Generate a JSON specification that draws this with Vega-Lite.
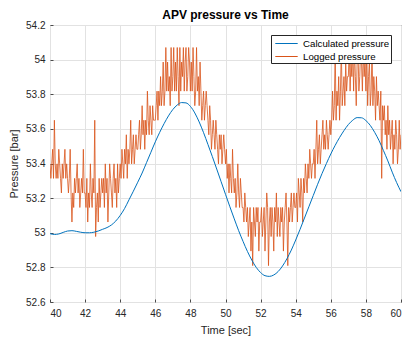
{
"$schema":"https://vega.github.io/schema/vega-lite/v6.json",
"width":351,"height":277,
"autosize":{"type":"none"},
"padding":{"left":50,"top":25,"right":12,"bottom":39},
"background":"white",
"title":{"text":"APV pressure vs Time","fontSize":12,"fontWeight":"bold","font":"Liberation Sans","color":"#000","anchor":"middle","offset":-2},
"config":{"view":{"stroke":"#4a4a4a","strokeWidth":1},
"axis":{"labelFont":"Liberation Sans","titleFont":"Liberation Sans","labelFontSize":10,"titleFontSize":11,"labelColor":"#262626","titleColor":"#262626","titleFontWeight":"normal","gridColor":"#e2e2e2","gridWidth":1,"domain":false,"ticks":true,"tickSize":-3,"tickColor":"#4a4a4a","tickWidth":1}},
"datasets":{
"calc":[
{"t":40.00,"p":52.995},{"t":40.25,"p":52.990},{"t":40.50,"p":52.993},{"t":40.75,"p":53.002},{"t":41.00,"p":53.010},{"t":41.25,"p":53.012},{"t":41.50,"p":53.008},{"t":41.75,"p":53.003},{"t":42.00,"p":53.000},{"t":42.25,"p":53.000},{"t":42.50,"p":53.003},{"t":42.75,"p":53.010},{"t":43.00,"p":53.020},{"t":43.25,"p":53.030},{"t":43.50,"p":53.045},{"t":43.75,"p":53.068},{"t":44.00,"p":53.100},{"t":44.25,"p":53.140},{"t":44.50,"p":53.190},{"t":44.75,"p":53.240},{"t":45.00,"p":53.292},{"t":45.25,"p":53.345},{"t":45.50,"p":53.405},{"t":45.75,"p":53.465},{"t":46.00,"p":53.525},{"t":46.25,"p":53.580},{"t":46.50,"p":53.630},{"t":46.75,"p":53.675},{"t":47.00,"p":53.712},{"t":47.25,"p":53.738},{"t":47.50,"p":53.752},{"t":47.75,"p":53.750},{"t":48.00,"p":53.730},{"t":48.25,"p":53.692},{"t":48.50,"p":53.640},{"t":48.75,"p":53.578},{"t":49.00,"p":53.510},{"t":49.25,"p":53.440},{"t":49.50,"p":53.368},{"t":49.75,"p":53.295},{"t":50.00,"p":53.222},{"t":50.25,"p":53.150},{"t":50.50,"p":53.080},{"t":50.75,"p":53.012},{"t":51.00,"p":52.950},{"t":51.25,"p":52.892},{"t":51.50,"p":52.842},{"t":51.75,"p":52.800},{"t":52.00,"p":52.770},{"t":52.25,"p":52.752},{"t":52.50,"p":52.748},{"t":52.75,"p":52.756},{"t":53.00,"p":52.776},{"t":53.25,"p":52.808},{"t":53.50,"p":52.850},{"t":53.75,"p":52.900},{"t":54.00,"p":52.958},{"t":54.25,"p":53.020},{"t":54.50,"p":53.085},{"t":54.75,"p":53.150},{"t":55.00,"p":53.215},{"t":55.25,"p":53.280},{"t":55.50,"p":53.342},{"t":55.75,"p":53.400},{"t":56.00,"p":53.455},{"t":56.25,"p":53.505},{"t":56.50,"p":53.550},{"t":56.75,"p":53.590},{"t":57.00,"p":53.625},{"t":57.25,"p":53.650},{"t":57.50,"p":53.665},{"t":57.75,"p":53.664},{"t":58.00,"p":53.648},{"t":58.25,"p":53.620},{"t":58.50,"p":53.580},{"t":58.75,"p":53.532},{"t":59.00,"p":53.475},{"t":59.25,"p":53.415},{"t":59.50,"p":53.350},{"t":59.75,"p":53.290},{"t":60.00,"p":53.237}
],
"logged":[
{"t":40.00,"p":53.398},{"t":40.05,"p":53.314},{"t":40.10,"p":53.398},{"t":40.15,"p":53.482},{"t":40.20,"p":53.314},{"t":40.25,"p":53.650},{"t":40.30,"p":53.398},{"t":40.35,"p":53.314},{"t":40.40,"p":53.398},{"t":40.45,"p":53.314},{"t":40.50,"p":53.482},{"t":40.55,"p":53.398},{"t":40.60,"p":53.314},{"t":40.65,"p":53.230},{"t":40.70,"p":53.398},{"t":40.75,"p":53.314},{"t":40.80,"p":53.398},{"t":40.85,"p":53.482},{"t":40.90,"p":53.314},{"t":40.95,"p":53.398},
{"t":41.00,"p":53.314},{"t":41.05,"p":53.230},{"t":41.10,"p":53.314},{"t":41.15,"p":53.482},{"t":41.20,"p":53.230},{"t":41.25,"p":53.062},{"t":41.30,"p":53.230},{"t":41.35,"p":53.146},{"t":41.40,"p":53.314},{"t":41.45,"p":53.230},{"t":41.50,"p":53.314},{"t":41.55,"p":53.398},{"t":41.60,"p":53.230},{"t":41.65,"p":53.314},{"t":41.70,"p":53.146},{"t":41.75,"p":53.230},{"t":41.80,"p":53.314},{"t":41.85,"p":53.230},{"t":41.90,"p":53.482},{"t":41.95,"p":53.230},
{"t":42.00,"p":53.230},{"t":42.05,"p":53.146},{"t":42.10,"p":53.314},{"t":42.15,"p":53.062},{"t":42.20,"p":53.230},{"t":42.25,"p":53.146},{"t":42.30,"p":53.398},{"t":42.35,"p":53.230},{"t":42.40,"p":53.146},{"t":42.45,"p":53.314},{"t":42.50,"p":53.230},{"t":42.55,"p":53.650},{"t":42.60,"p":52.978},{"t":42.65,"p":53.146},{"t":42.70,"p":53.230},{"t":42.75,"p":53.062},{"t":42.80,"p":53.314},{"t":42.85,"p":53.146},{"t":42.90,"p":53.230},{"t":42.95,"p":53.314},
{"t":43.00,"p":53.230},{"t":43.05,"p":53.314},{"t":43.10,"p":53.146},{"t":43.15,"p":53.398},{"t":43.20,"p":53.230},{"t":43.25,"p":53.314},{"t":43.30,"p":53.062},{"t":43.35,"p":53.230},{"t":43.40,"p":53.398},{"t":43.45,"p":53.314},{"t":43.50,"p":53.230},{"t":43.55,"p":53.146},{"t":43.60,"p":53.314},{"t":43.65,"p":53.398},{"t":43.70,"p":53.230},{"t":43.75,"p":53.314},{"t":43.80,"p":53.146},{"t":43.85,"p":53.398},{"t":43.90,"p":53.230},{"t":43.95,"p":53.314},
{"t":44.00,"p":53.398},{"t":44.05,"p":53.314},{"t":44.10,"p":53.482},{"t":44.15,"p":53.398},{"t":44.20,"p":53.314},{"t":44.25,"p":53.482},{"t":44.30,"p":53.398},{"t":44.35,"p":53.566},{"t":44.40,"p":53.314},{"t":44.45,"p":53.482},{"t":44.50,"p":53.398},{"t":44.55,"p":53.482},{"t":44.60,"p":53.650},{"t":44.65,"p":53.398},{"t":44.70,"p":53.482},{"t":44.75,"p":53.566},{"t":44.80,"p":53.398},{"t":44.85,"p":53.482},{"t":44.90,"p":53.566},{"t":44.95,"p":53.482},
{"t":45.00,"p":53.482},{"t":45.05,"p":53.566},{"t":45.10,"p":53.650},{"t":45.15,"p":53.482},{"t":45.20,"p":53.566},{"t":45.25,"p":53.734},{"t":45.30,"p":53.566},{"t":45.35,"p":53.650},{"t":45.40,"p":53.482},{"t":45.45,"p":53.650},{"t":45.50,"p":53.566},{"t":45.55,"p":53.818},{"t":45.60,"p":53.650},{"t":45.65,"p":53.566},{"t":45.70,"p":53.734},{"t":45.75,"p":53.650},{"t":45.80,"p":53.566},{"t":45.85,"p":53.734},{"t":45.90,"p":53.650},{"t":45.95,"p":53.650},
{"t":46.00,"p":53.650},{"t":46.05,"p":53.734},{"t":46.10,"p":53.818},{"t":46.15,"p":53.650},{"t":46.20,"p":53.818},{"t":46.25,"p":53.734},{"t":46.30,"p":53.902},{"t":46.35,"p":53.734},{"t":46.40,"p":53.818},{"t":46.45,"p":53.986},{"t":46.50,"p":53.734},{"t":46.55,"p":53.818},{"t":46.60,"p":54.070},{"t":46.65,"p":53.818},{"t":46.70,"p":53.986},{"t":46.75,"p":53.818},{"t":46.80,"p":53.902},{"t":46.85,"p":53.734},{"t":46.90,"p":54.070},{"t":46.95,"p":53.818},
{"t":47.00,"p":53.902},{"t":47.05,"p":54.070},{"t":47.10,"p":53.818},{"t":47.15,"p":53.986},{"t":47.20,"p":53.818},{"t":47.25,"p":54.070},{"t":47.30,"p":53.902},{"t":47.35,"p":53.734},{"t":47.40,"p":54.070},{"t":47.45,"p":53.818},{"t":47.50,"p":53.986},{"t":47.55,"p":53.902},{"t":47.60,"p":54.070},{"t":47.65,"p":53.818},{"t":47.70,"p":53.986},{"t":47.75,"p":54.070},{"t":47.80,"p":53.818},{"t":47.85,"p":53.902},{"t":47.90,"p":54.070},{"t":47.95,"p":53.986},
{"t":48.00,"p":53.818},{"t":48.05,"p":53.986},{"t":48.10,"p":53.818},{"t":48.15,"p":54.070},{"t":48.20,"p":53.902},{"t":48.25,"p":53.734},{"t":48.30,"p":53.818},{"t":48.35,"p":54.070},{"t":48.40,"p":53.818},{"t":48.45,"p":53.902},{"t":48.50,"p":53.734},{"t":48.55,"p":53.986},{"t":48.60,"p":53.818},{"t":48.65,"p":53.650},{"t":48.70,"p":53.734},{"t":48.75,"p":53.818},{"t":48.80,"p":53.650},{"t":48.85,"p":53.734},{"t":48.90,"p":53.818},{"t":48.95,"p":53.734},
{"t":49.00,"p":53.650},{"t":49.05,"p":53.566},{"t":49.10,"p":53.734},{"t":49.15,"p":53.650},{"t":49.20,"p":53.482},{"t":49.25,"p":53.566},{"t":49.30,"p":53.650},{"t":49.35,"p":53.566},{"t":49.40,"p":53.482},{"t":49.45,"p":53.650},{"t":49.50,"p":53.566},{"t":49.55,"p":53.482},{"t":49.60,"p":53.398},{"t":49.65,"p":53.566},{"t":49.70,"p":53.482},{"t":49.75,"p":53.566},{"t":49.80,"p":53.398},{"t":49.85,"p":53.482},{"t":49.90,"p":53.566},{"t":49.95,"p":53.482},
{"t":50.00,"p":53.398},{"t":50.05,"p":53.482},{"t":50.10,"p":53.314},{"t":50.15,"p":53.398},{"t":50.20,"p":53.230},{"t":50.25,"p":53.398},{"t":50.30,"p":53.314},{"t":50.35,"p":53.230},{"t":50.40,"p":53.482},{"t":50.45,"p":53.314},{"t":50.50,"p":53.230},{"t":50.55,"p":53.314},{"t":50.60,"p":53.146},{"t":50.65,"p":53.230},{"t":50.70,"p":53.398},{"t":50.75,"p":53.230},{"t":50.80,"p":53.146},{"t":50.85,"p":53.314},{"t":50.90,"p":53.230},{"t":50.95,"p":53.146},
{"t":51.00,"p":53.146},{"t":51.05,"p":53.062},{"t":51.10,"p":53.230},{"t":51.15,"p":53.146},{"t":51.20,"p":53.062},{"t":51.25,"p":53.146},{"t":51.30,"p":52.978},{"t":51.35,"p":53.062},{"t":51.40,"p":53.146},{"t":51.45,"p":52.894},{"t":51.50,"p":53.062},{"t":51.55,"p":52.810},{"t":51.60,"p":53.146},{"t":51.65,"p":53.062},{"t":51.70,"p":52.978},{"t":51.75,"p":53.146},{"t":51.80,"p":53.062},{"t":51.85,"p":53.146},{"t":51.90,"p":52.894},{"t":51.95,"p":53.062},
{"t":52.00,"p":53.062},{"t":52.05,"p":53.146},{"t":52.10,"p":52.978},{"t":52.15,"p":53.062},{"t":52.20,"p":53.146},{"t":52.25,"p":52.894},{"t":52.30,"p":53.062},{"t":52.35,"p":53.230},{"t":52.40,"p":53.146},{"t":52.45,"p":52.810},{"t":52.50,"p":53.062},{"t":52.55,"p":53.146},{"t":52.60,"p":52.978},{"t":52.65,"p":53.146},{"t":52.70,"p":53.062},{"t":52.75,"p":52.894},{"t":52.80,"p":53.146},{"t":52.85,"p":53.062},{"t":52.90,"p":53.230},{"t":52.95,"p":52.978},
{"t":53.00,"p":53.146},{"t":53.05,"p":53.062},{"t":53.10,"p":52.978},{"t":53.15,"p":53.146},{"t":53.20,"p":53.062},{"t":53.25,"p":53.146},{"t":53.30,"p":52.894},{"t":53.35,"p":53.062},{"t":53.40,"p":53.146},{"t":53.45,"p":53.230},{"t":53.50,"p":53.062},{"t":53.55,"p":52.810},{"t":53.60,"p":53.146},{"t":53.65,"p":53.062},{"t":53.70,"p":53.146},{"t":53.75,"p":53.230},{"t":53.80,"p":53.062},{"t":53.85,"p":53.146},{"t":53.90,"p":53.230},{"t":53.95,"p":53.146},
{"t":54.00,"p":53.146},{"t":54.05,"p":53.230},{"t":54.10,"p":53.062},{"t":54.15,"p":53.314},{"t":54.20,"p":53.230},{"t":54.25,"p":53.146},{"t":54.30,"p":53.314},{"t":54.35,"p":53.230},{"t":54.40,"p":53.062},{"t":54.45,"p":53.314},{"t":54.50,"p":53.230},{"t":54.55,"p":53.398},{"t":54.60,"p":53.314},{"t":54.65,"p":53.230},{"t":54.70,"p":53.398},{"t":54.75,"p":53.314},{"t":54.80,"p":53.482},{"t":54.85,"p":53.398},{"t":54.90,"p":53.314},{"t":54.95,"p":53.398},
{"t":55.00,"p":53.398},{"t":55.05,"p":53.482},{"t":55.10,"p":53.314},{"t":55.15,"p":53.482},{"t":55.20,"p":53.650},{"t":55.25,"p":53.398},{"t":55.30,"p":53.482},{"t":55.35,"p":53.566},{"t":55.40,"p":53.398},{"t":55.45,"p":53.482},{"t":55.50,"p":53.566},{"t":55.55,"p":53.650},{"t":55.60,"p":53.482},{"t":55.65,"p":53.566},{"t":55.70,"p":53.482},{"t":55.75,"p":53.650},{"t":55.80,"p":53.566},{"t":55.85,"p":53.482},{"t":55.90,"p":53.566},{"t":55.95,"p":53.650},
{"t":56.00,"p":53.566},{"t":56.05,"p":53.650},{"t":56.10,"p":53.818},{"t":56.15,"p":53.650},{"t":56.20,"p":53.734},{"t":56.25,"p":54.070},{"t":56.30,"p":53.650},{"t":56.35,"p":53.818},{"t":56.40,"p":53.734},{"t":56.45,"p":53.902},{"t":56.50,"p":53.650},{"t":56.55,"p":53.818},{"t":56.60,"p":54.070},{"t":56.65,"p":53.734},{"t":56.70,"p":53.818},{"t":56.75,"p":53.902},{"t":56.80,"p":53.734},{"t":56.85,"p":53.986},{"t":56.90,"p":53.818},{"t":56.95,"p":53.902},
{"t":57.00,"p":53.902},{"t":57.05,"p":54.070},{"t":57.10,"p":53.818},{"t":57.15,"p":53.986},{"t":57.20,"p":53.902},{"t":57.25,"p":54.070},{"t":57.30,"p":53.818},{"t":57.35,"p":54.070},{"t":57.40,"p":53.902},{"t":57.45,"p":53.734},{"t":57.50,"p":53.986},{"t":57.55,"p":54.070},{"t":57.60,"p":53.818},{"t":57.65,"p":53.902},{"t":57.70,"p":54.070},{"t":57.75,"p":53.986},{"t":57.80,"p":53.818},{"t":57.85,"p":54.070},{"t":57.90,"p":53.902},{"t":57.95,"p":53.986},
{"t":58.00,"p":53.818},{"t":58.05,"p":54.070},{"t":58.10,"p":53.734},{"t":58.15,"p":53.902},{"t":58.20,"p":53.986},{"t":58.25,"p":53.734},{"t":58.30,"p":53.818},{"t":58.35,"p":54.070},{"t":58.40,"p":53.734},{"t":58.45,"p":53.902},{"t":58.50,"p":53.818},{"t":58.55,"p":53.650},{"t":58.60,"p":53.902},{"t":58.65,"p":53.734},{"t":58.70,"p":53.818},{"t":58.75,"p":53.734},{"t":58.80,"p":53.650},{"t":58.85,"p":53.818},{"t":58.90,"p":53.314},{"t":58.95,"p":53.734},
{"t":59.00,"p":53.650},{"t":59.05,"p":53.734},{"t":59.10,"p":53.566},{"t":59.15,"p":53.650},{"t":59.20,"p":53.482},{"t":59.25,"p":53.734},{"t":59.30,"p":53.566},{"t":59.35,"p":53.650},{"t":59.40,"p":53.482},{"t":59.45,"p":53.566},{"t":59.50,"p":53.650},{"t":59.55,"p":53.398},{"t":59.60,"p":53.566},{"t":59.65,"p":53.482},{"t":59.70,"p":53.650},{"t":59.75,"p":53.566},{"t":59.80,"p":53.398},{"t":59.85,"p":53.482},{"t":59.90,"p":53.650},{"t":59.95,"p":53.482},
{"t":60.00,"p":53.566}
]},
"encoding":{
"x":{"field":"t","type":"quantitative","scale":{"domain":[40,60],"nice":false},"axis":{"values":[40,42,44,46,48,50,52,54,56,58,60],"title":"Time [sec]","labelPadding":9,"titlePadding":6,"grid":true}},
"y":{"field":"p","type":"quantitative","scale":{"domain":[52.6,54.2],"nice":false,"zero":false},"axis":{"values":[52.6,52.8,53,53.2,53.4,53.6,53.8,54,54.2],"format":"~f","title":"Pressure [bar]","labelPadding":8,"titlePadding":6,"grid":true}}
},
"layer":[
{"data":{"name":"logged"},"mark":{"type":"line","strokeWidth":0.8,"clip":true},
 "encoding":{"color":{"datum":"Logged pressure","type":"nominal","scale":{"domain":["Calculated pressure","Logged pressure"],"range":["#0072BD","#D95319"]},
  "legend":{"title":null,"orient":"none","legendX":221,"legendY":10,"strokeColor":"#262626","fillColor":"#ffffff","padding":1,"symbolType":"M-1.6,0H1.6","symbolSize":196,"symbolStrokeWidth":1,"symbolFillColor":"transparent","symbolOffset":7,"labelOffset":9,"labelFontSize":9.7,"labelFont":"Liberation Sans","labelColor":"#000000","rowPadding":0,"labelLimit":0}}}},
{"data":{"name":"calc"},"mark":{"type":"line","strokeWidth":1,"interpolate":"monotone","clip":true},
 "encoding":{"color":{"datum":"Calculated pressure","type":"nominal"}}}
]
}
